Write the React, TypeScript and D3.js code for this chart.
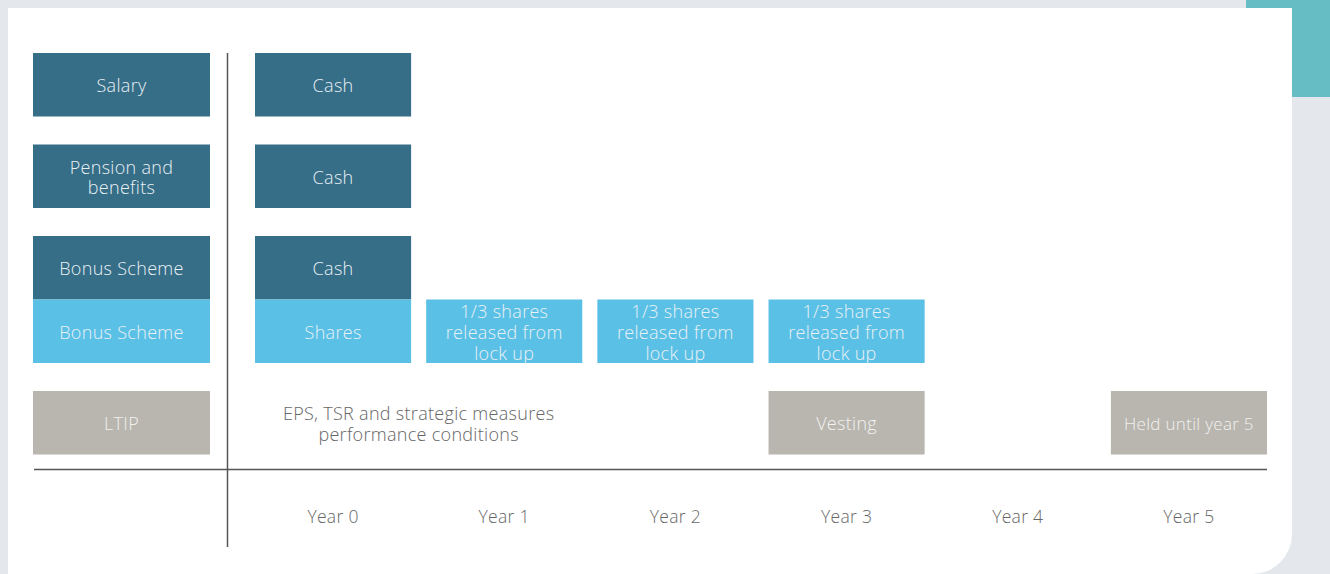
import React, { useEffect } from "react";
import * as d3 from "d3";

// rows of the scheme, top to bottom
const rowLabels = ["Salary", "Pension and\nbenefits", "Bonus Scheme", "Bonus Scheme", "LTIP"];
const rowKinds = ["cash", "cash", "cash", "shares", "ltip"];
const yearLabels = ["Year 0", "Year 1", "Year 2", "Year 3", "Year 4", "Year 5"];

// boxes in the timeline: row index, year index, text
const cellRows = [0, 1, 2, 3, 3, 3, 3, 4, 4];
const cellYears = [0, 0, 0, 0, 1, 2, 3, 3, 5];
const cellTexts = [
  "Cash",
  "Cash",
  "Cash",
  "Shares",
  "1/3 shares\nreleased from\nlock up",
  "1/3 shares\nreleased from\nlock up",
  "1/3 shares\nreleased from\nlock up",
  "Vesting",
  "Held until year 5",
];

const ltipNote = "EPS, TSR and strategic measures\nperformance conditions";

const colors: Record<string, string> = {
  cash: "#366d87",
  shares: "#5bc0e6",
  ltip: "#b9b6af",
};

const W = 1330;
const H = 574;
const FONT = "'Open Sans', Lato, sans-serif";

export default function App() {
  useEffect(() => {
    document.body.style.margin = "0";
  }, []);

  const x = d3.scaleBand<number>()
    .domain(d3.range(yearLabels.length))
    .range([255, 1267])
    .paddingInner(0.088)
    .paddingOuter(0);

  // row tops: bonus cash/shares rows sit directly on each other
  const rowH = 63.5;
  const gap = 28;
  const rowTop: number[] = [];
  let y0 = 53;
  rowLabels.forEach((_, i) => {
    if (i > 0) y0 += rowH + (i === 3 ? 0 : gap);
    rowTop.push(y0);
  });

  const labelX0 = 33;
  const labelW = 177;
  const axisY = 469.5;

  const multi = (txt: string, cx: number, cy: number, fill: string, size: number, lh: number) => {
    const lines = txt.split("\n");
    const start = cy - ((lines.length - 1) * lh) / 2;
    return (
      <text textAnchor="middle" fill={fill} fontSize={size} fontFamily={FONT} fontWeight={300} letterSpacing={0.3}>
        {lines.map((l, i) => (
          <tspan key={i} x={cx} y={start + i * lh} dy="0.42em">{l}</tspan>
        ))}
      </text>
    );
  };

  return (
    <div style={{ position: "absolute", left: 0, top: 0 }}>
      <svg width={W} height={H} style={{ display: "block" }}>
        <rect width={W} height={H} fill="#e4e8ed" />
        <rect x={1246} y={0} width={84} height={97} fill="#66bec4" />
        <path
          d={`M8,8 H1292 V${H - 40} A40,40 0 0 1 1252,${H} H8 Z`}
          fill="#ffffff"
        />

        {/* left labels */}
        {rowLabels.map((lab, i) => (
          <g key={"l" + i}>
            <rect x={labelX0} y={rowTop[i]} width={labelW} height={rowH} fill={colors[rowKinds[i]]} />
            {multi(lab, labelX0 + labelW / 2, rowTop[i] + rowH / 2, rowKinds[i] === "ltip" ? "#f1f1ef" : "#e9f1f5", 18, 20.5)}
          </g>
        ))}

        {/* timeline cells */}
        {cellTexts.map((t, i) => {
          const r = cellRows[i];
          const bx = x(cellYears[i])!;
          const long = t.length > 15 && !t.includes("\n");
          return (
            <g key={"c" + i}>
              <rect x={bx} y={rowTop[r]} width={x.bandwidth()} height={rowH} fill={colors[rowKinds[r]]} />
              {multi(t, bx + x.bandwidth() / 2, rowTop[r] + rowH / 2, rowKinds[r] === "ltip" ? "#f1f1ef" : "#e9f1f5", long ? 17 : 18, 21)}
            </g>
          );
        })}

        {/* LTIP performance note spanning years 0-1 */}
        {multi(ltipNote, (x(0)! + x(1)! + x.bandwidth()) / 2, rowTop[4] + rowH / 2, "#666666", 18, 21.5)}

        {/* axes */}
        <line x1={227.5} x2={227.5} y1={53} y2={547} stroke="#555" strokeWidth={1.5} />
        <line x1={34} x2={1267} y1={axisY} y2={axisY} stroke="#555" strokeWidth={1.5} />

        {yearLabels.map((yl, i) => (
          <text
            key={"y" + i}
            x={x(i)! + x.bandwidth() / 2}
            y={516}
            dy="0.4em"
            textAnchor="middle"
            fill="#666666"
            fontSize={17.5}
            fontWeight={300}
            letterSpacing={0.3}
            fontFamily={FONT}
          >
            {yl}
          </text>
        ))}
      </svg>
    </div>
  );
}
